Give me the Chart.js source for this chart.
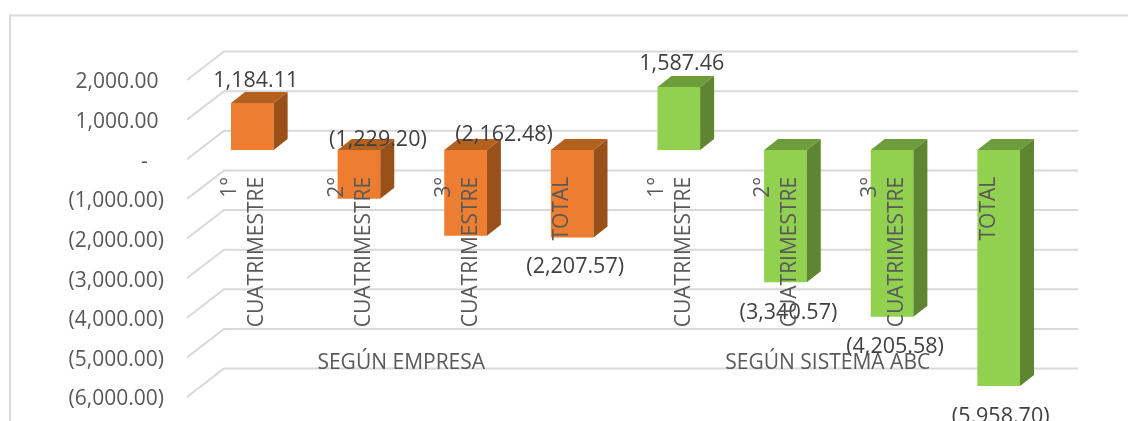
<!DOCTYPE html>
<html>
<head>
<meta charset="utf-8">
<title>Resultado por cuatrimestre</title>
<style>
  html, body { margin: 0; padding: 0; background: #ffffff; overflow: hidden; }
  canvas { display: block; }
</style>
<script src="https://cdn.jsdelivr.net/npm/chart.js@4/dist/chart.umd.min.js"></script>
</head>
<body>
<canvas id="resultChart" width="1128" height="421"></canvas>
<script>
// Data
const categories = [
    ['1°', 'CUATRIMESTRE'], ['2°', 'CUATRIMESTRE'], ['3°', 'CUATRIMESTRE'], 'TOTAL',
    ['1°', 'CUATRIMESTRE'], ['2°', 'CUATRIMESTRE'], ['3°', 'CUATRIMESTRE'], 'TOTAL'
];
const groups = ['SEGÚN EMPRESA', 'SEGÚN SISTEMA ABC'];
const empresaValues = [1184.11, -1229.20, -2162.48, -2207.57];
const abcValues = [1587.46, -3340.57, -4205.58, -5958.70];
const barLabels = ['1,184.11', '(1,229.20)', '(2,162.48)', '(2,207.57)', '1,587.46', '(3,340.57)', '(4,205.58)', '(5,958.70)'];
const yTickLabels = ['(6,000.00)', '(5,000.00)', '(4,000.00)', '(3,000.00)', '(2,000.00)', '(1,000.00)', '-', '1,000.00', '2,000.00'];

// Hand placed data labels, offset from the end of each bar
const labelDx = [3.5, 19, 38.5, 3, 3, 3, 3, 2];
const labelDy = [-22, -59, -101, 29, -23, 31, 30, 31];

const FONT = '"Open Sans", sans-serif';
const ORANGE = { front: '#ED7D31', top: '#B4611F', side: '#9A5119' };
const GREEN = { front: '#92D050', top: '#6E9D3C', side: '#5E8530' };

// 3D look: wall, floor lines and bar depth
const BAR_DEPTH_X = 14;
const BAR_DEPTH_Y = 11;
const WALL_X = 25;
const WALL_Y = 28.5;
const FRONT_X = 12;
// tick labels sit a little below the end of their gridline
const GRID_SHIFT = 2.5;

const PX_PER_UNIT = 317 / 8000;
const BAR_ZERO_Y = 150;
const AREA_TOP = 82.5;
const AREA_BOTTOM = 399.5;

const barCount = empresaValues.length;

const frame3dPlugin = {
    id: 'frame3d',
    beforeDatasetsDraw(chart) {
        const { ctx, chartArea, scales } = chart;
        ctx.save();
        ctx.strokeStyle = '#D9D9D9';

        // Chart frame, only top and left are in the picture
        ctx.lineWidth = 2;
        ctx.beginPath();
        ctx.moveTo(10, 421);
        ctx.lineTo(10, 15.5);
        ctx.lineTo(1128, 15.5);
        ctx.stroke();

        // Gridlines run along the side wall then across the back wall
        ctx.lineWidth = 2;
        scales.y.ticks.forEach(tick => {
            const y = scales.y.getPixelForValue(tick.value) - GRID_SHIFT;
            ctx.beginPath();
            ctx.moveTo(chartArea.left - FRONT_X, y);
            ctx.lineTo(chartArea.left + WALL_X, y - WALL_Y);
            ctx.lineTo(chartArea.right + WALL_X + 1, y - WALL_Y);
            ctx.stroke();
        });
        ctx.restore();
    },
    afterDatasetsDraw(chart) {
        const { ctx } = chart;
        const zero = chart.scales.y1.getPixelForValue(0);
        const bars = chart.getDatasetMeta(0).data;
        ctx.save();
        bars.forEach((bar, i) => {
            const colors = i < barCount ? ORANGE : GREEN;
            const right = bar.x + bar.width / 2;
            const left = bar.x - bar.width / 2;
            const top = Math.min(bar.y, zero);
            const bottom = Math.max(bar.y, zero);

            // top face
            ctx.fillStyle = colors.top;
            ctx.beginPath();
            ctx.moveTo(left, top);
            ctx.lineTo(left + BAR_DEPTH_X, top - BAR_DEPTH_Y);
            ctx.lineTo(right + BAR_DEPTH_X, top - BAR_DEPTH_Y);
            ctx.lineTo(right, top);
            ctx.closePath();
            ctx.fill();

            // side face
            ctx.fillStyle = colors.side;
            ctx.beginPath();
            ctx.moveTo(right, top);
            ctx.lineTo(right + BAR_DEPTH_X, top - BAR_DEPTH_Y);
            ctx.lineTo(right + BAR_DEPTH_X, bottom - BAR_DEPTH_Y);
            ctx.lineTo(right, bottom);
            ctx.closePath();
            ctx.fill();
        });

        // data labels
        ctx.fillStyle = '#404040';
        ctx.font = '21.5px ' + FONT;
        ctx.textAlign = 'center';
        ctx.textBaseline = 'middle';
        bars.forEach((bar, i) => {
            ctx.fillText(barLabels[i], bar.x + labelDx[i], bar.y + labelDy[i]);
        });
        ctx.restore();
    }
};

// The axes must not push the plot area away from the fixed frame
const noAxisHeight = scale => { scale.height = 0; };

new Chart(document.getElementById('resultChart').getContext('2d'), {
    type: 'bar',
    plugins: [frame3dPlugin],
    data: {
        labels: categories,
        datasets: [{
            data: empresaValues.concat(abcValues),
            backgroundColor: empresaValues.map(() => ORANGE.front).concat(abcValues.map(() => GREEN.front)),
            borderWidth: 0,
            categoryPercentage: 1,
            barPercentage: 0.4,
            xAxisID: 'x',
            yAxisID: 'y1'
        }]
    },
    options: {
        responsive: false,
        animation: false,
        layout: { padding: { top: AREA_TOP, bottom: 421 - AREA_BOTTOM, right: 76, left: 0 } },
        plugins: { legend: { display: false }, tooltip: { enabled: false } },
        scales: {
            // Bars sit on a plane in front of the axis, so they get their own hidden scale
            y1: {
                display: false,
                min: (BAR_ZERO_Y - AREA_BOTTOM) / PX_PER_UNIT,
                max: (BAR_ZERO_Y - AREA_TOP) / PX_PER_UNIT
            },
            y: {
                position: 'left',
                min: -6000,
                max: 2000,
                afterFit: scale => {
                    scale.width = 199;
                    scale.paddingTop = 0;
                    scale.paddingBottom = 0;
                },
                grid: { display: false },
                border: { display: false },
                ticks: {
                    stepSize: 1000,
                    padding: 27,
                    color: '#595959',
                    font: { family: FONT, size: 21 },
                    callback: (value, index) => {
                        const text = yTickLabels[index];
                        if (text === '-') return '-   ';
                        return text.startsWith('(') ? text : text + ' ';
                    }
                }
            },
            x: {
                position: { y: 0 },
                afterFit: noAxisHeight,
                grid: { display: false },
                border: { display: false },
                ticks: {
                    z: 1,
                    autoSkip: false,
                    minRotation: 90,
                    maxRotation: 90,
                    padding: 7,
                    labelOffset: -22,
                    color: '#595959',
                    // TOTAL is pushed by an empty first line so it sits between the two line labels
                    callback: function (value) {
                        const label = this.getLabelForValue(value);
                        return label === 'TOTAL' ? ['', label] : label;
                    },
                    font: ctx => ({
                        family: FONT,
                        size: 21,
                        lineHeight: categories[ctx.index] === 'TOTAL' ? '12px' : '27px'
                    })
                }
            },
            xGroup: {
                type: 'category',
                axis: 'x',
                labels: groups,
                offset: true,
                position: { y: -4000 },
                afterFit: noAxisHeight,
                grid: { display: false },
                border: { display: false },
                ticks: {
                    z: 1,
                    maxRotation: 0,
                    padding: 21,
                    labelOffset: -11,
                    color: '#595959',
                    font: { family: FONT, size: 21, lineHeight: '27px' }
                }
            }
        }
    }
});
</script>
</body>
</html>
